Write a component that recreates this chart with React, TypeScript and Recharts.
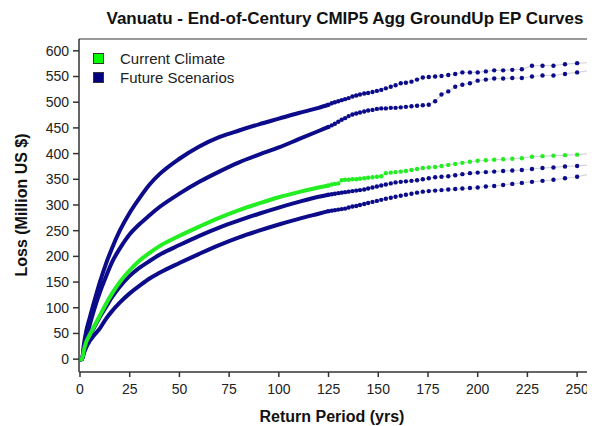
import React from "react";
import { ComposedChart, Line, XAxis, YAxis, ReferenceLine } from "recharts";

const FONT = '"Liberation Sans", Arial, sans-serif';
const NAVY = "#0c0c8a";
const GREEN = "#22ee22";

// return periods (yrs); past 125 these are the 10000-yr catalogue ranks
const returnPeriods = [
  0, 1, 2, 3, 5, 7, 10, 13, 16, 20, 25, 30, 35, 40, 50, 60, 70, 80, 90, 100, 110, 120,
  125, 126.6, 128.2, 129.9, 131.6, 133.3, 135.1, 137, 138.9, 140.8, 142.9, 144.9, 147.1,
  149.3, 151.5, 153.8, 156.3, 158.7, 161.3, 163.9, 166.7, 169.5, 172.4, 175.4, 178.6,
  181.8, 185.2, 188.7, 192.3, 196.1, 200, 204.1, 208.3, 212.8, 217.4, 222.2, 227.3,
  232.6, 238.1, 243.9, 250, 256.4, 263.2,
];

// loss (million US$)
const futureA = [
  0, 0, 30, 52, 82, 110, 150, 185, 215, 250, 285, 314, 340, 360, 390, 414, 432, 445, 457, 468, 479, 489,
  495, 498, 500, 502, 504, 506, 508, 511, 513, 515, 517, 518, 520, 522, 524, 527, 530, 533, 537, 538,
  540, 544, 548, 549, 550, 551, 553, 555, 558, 558, 558, 560, 562, 562, 563, 564, 571, 571, 571, 574,
  576, 577, 578,
];
const futureB = [
  0, 0, 22, 38, 68, 95, 130, 160, 188, 215, 243, 263, 280, 296, 322, 345, 365, 383, 398, 412, 428, 444,
  452, 455, 458, 462, 466, 469, 473, 476, 478, 480, 482, 484, 485, 487, 488, 488, 489, 489, 490, 491,
  492, 493, 494, 495, 502, 515, 521, 530, 534, 537, 542, 544, 546, 546, 547, 547, 550, 552, 552, 555,
  558, 562, 563,
];
const currentClimate = [
  0, 0, 18, 32, 48, 63, 85, 107, 127, 150, 173, 192, 207, 220, 240, 258, 275, 290, 303, 315, 325, 334,
  338, 340, 341, 342, 348, 349, 349, 350, 350, 351, 352, 353, 354, 355, 356, 362, 363, 364, 365, 366,
  368, 370, 372, 373, 374, 376, 378, 380, 382, 384, 386, 387, 388, 389, 390, 391, 394, 395, 396, 397,
  398, 400, 401,
];
const futureC = [
  0, 0, 15, 28, 46, 61, 82, 101, 120, 141, 162, 178, 191, 203, 222, 240, 256, 270, 283, 295, 306, 316,
  320, 321, 322, 323, 324, 325, 326, 327, 328, 329, 330, 332, 334, 336, 338, 340, 342, 344, 345, 346,
  347, 348, 350, 352, 354, 355, 356, 358, 360, 362, 363, 364, 365, 366, 367, 368, 370, 372, 373, 375,
  376, 378, 380,
];
const futureD = [
  0, 0, 12, 22, 36, 46, 60, 78, 93, 110, 128, 143, 157, 168, 187, 205, 222, 237, 250, 262, 273, 283,
  288, 289, 290, 291, 292, 293, 295, 297, 298, 300, 302, 304, 306, 308, 310, 312, 314, 316, 318, 320,
  322, 324, 326, 327, 328, 329, 330, 331, 332, 333, 334, 336, 337, 339, 341, 343, 345, 347, 349, 352,
  355, 360, 364,
];

const xTicks = [0, 25, 50, 75, 100, 125, 150, 175, 200, 225, 250];
const yTicks = [0, 50, 100, 150, 200, 250, 300, 350, 400, 450, 500, 550, 600];

const legendItems = [
  { label: "Current Climate", color: "#00ff00" },
  { label: "Future Scenarios", color: "#000080" },
];

// blue first so the green curve sits on top
const curves = [
  { key: "fa", values: futureA, color: NAVY },
  { key: "fb", values: futureB, color: NAVY },
  { key: "fc", values: futureC, color: NAVY },
  { key: "fd", values: futureD, color: NAVY },
  { key: "cur", values: currentClimate, color: GREEN },
];

const DOT_FROM = 125;

const rows = returnPeriods.map((rp, i) => {
  const row: Record<string, number | null> = { rp };
  curves.forEach((c) => {
    row[c.key] = rp <= DOT_FROM ? c.values[i] : null;
    row[c.key + "Dot"] = rp >= DOT_FROM ? c.values[i] : null;
  });
  return row;
});

const tickStyle = { fontSize: 14, fill: "#222", fontFamily: FONT };

export default function App() {
  return (
    <div
      style={{
        position: "relative",
        width: 595,
        height: 426,
        margin: "-8px 0 0 -8px",
        overflow: "hidden",
        background: "#fff",
        fontFamily: FONT,
      }}
    >
      <ComposedChart
        width={600}
        height={426}
        data={rows}
        margin={{ top: 39, right: 3, bottom: 0, left: 0 }}
      >
        <XAxis
          type="number"
          dataKey="rp"
          domain={[-0.5, 260]}
          ticks={xTicks}
          interval={0}
          allowDataOverflow
          height={54}
          tickSize={5}
          tickMargin={7}
          stroke="#333"
          strokeWidth={1.5}
          tick={tickStyle}
        />
        <YAxis
          domain={[-25, 623]}
          ticks={yTicks}
          interval={0}
          allowDataOverflow
          width={79}
          tickSize={6}
          tickMargin={4}
          stroke="#333"
          strokeWidth={1.5}
          tick={tickStyle}
        />
        <YAxis
          yAxisId="r"
          orientation="right"
          mirror
          domain={[-25, 623]}
          ticks={yTicks}
          interval={0}
          width={0}
          axisLine={false}
          tickSize={6}
          stroke="#666"
          tick={() => <g />}
        />
        <ReferenceLine y={623} stroke="#9a9a9a" strokeWidth={2} />
        {curves.map((c) => (
          <React.Fragment key={c.key}>
            <Line
              dataKey={c.key}
              type="monotone"
              stroke={c.color}
              strokeWidth={4}
              dot={false}
              activeDot={false}
              isAnimationActive={false}
            />
            <Line
              dataKey={c.key + "Dot"}
              type="linear"
              stroke="#d4d4de"
              strokeWidth={1.2}
              dot={{ r: 2.2, fill: c.color, stroke: "none" }}
              activeDot={false}
              isAnimationActive={false}
            />
          </React.Fragment>
        ))}
      </ComposedChart>

      <div
        style={{
          position: "absolute",
          left: 0,
          top: 10,
          width: 690,
          textAlign: "center",
          fontSize: 17,
          lineHeight: "17px",
          fontWeight: "bold",
          color: "#111",
        }}
      >
        Vanuatu - End-of-Century CMIP5 Agg GroundUp EP Curves
      </div>

      <div
        style={{
          position: "absolute",
          left: 22 - 110,
          top: 205 - 9,
          width: 220,
          textAlign: "center",
          fontSize: 16,
          lineHeight: "18px",
          fontWeight: "bold",
          color: "#111",
          transform: "rotate(-90deg)",
        }}
      >
        Loss (Million US $)
      </div>

      <div
        style={{
          position: "absolute",
          left: 332 - 120,
          top: 408,
          width: 240,
          textAlign: "center",
          fontSize: 16,
          lineHeight: "18px",
          fontWeight: "bold",
          color: "#111",
        }}
      >
        Return Period (yrs)
      </div>

      <div style={{ position: "absolute", left: 93, top: 49, fontSize: 15, color: "#222" }}>
        {legendItems.map((item) => (
          <div key={item.label} style={{ display: "flex", alignItems: "center", height: 19 }}>
            <span
              style={{
                width: 9,
                height: 9,
                background: item.color,
                border: "1px solid #333",
                marginRight: 16,
              }}
            />
            {item.label}
          </div>
        ))}
      </div>
    </div>
  );
}
